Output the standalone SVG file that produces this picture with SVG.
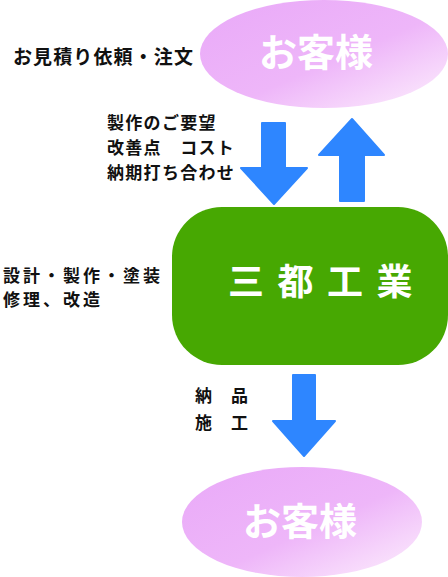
<svg xmlns="http://www.w3.org/2000/svg" width="448" height="577" viewBox="0 0 448 577">
<defs>
<linearGradient id="pink" x1="0" y1="0" x2="1" y2="1">
<stop offset="0" stop-color="#e9a9f8"/>
<stop offset="0.55" stop-color="#eeb6f9"/>
<stop offset="1" stop-color="#fdf0fd"/>
</linearGradient>
<style>
.lbl{font-family:"Noto Sans CJK JP","Noto Sans CJK SC",sans-serif;font-weight:bold;fill:#111;}
.wt{font-family:"Noto Sans CJK JP","Noto Sans CJK SC",sans-serif;font-weight:bold;fill:#fff;}
.arr{fill:#2e86ff;stroke:#2e86ff;stroke-width:2;stroke-linejoin:round;}
</style>
</defs>
<g id="customer-top">
<ellipse cx="324" cy="54" rx="124" ry="54" fill="url(#pink)"/>
<text class="wt" x="316" y="66" font-size="38" text-anchor="middle">お客様</text>
</g>
<g id="santo-kogyo">
<rect x="172" y="207" width="276" height="158" rx="50" ry="50" fill="#47a802"/>
<text class="wt" x="228" y="295" font-size="36" letter-spacing="13.5" font-weight="normal">三都工業</text>
</g>
<g id="customer-bottom">
<ellipse cx="302" cy="522" rx="120" ry="55" fill="url(#pink)"/>
<text class="wt" x="300" y="535" font-size="38" text-anchor="middle">お客様</text>
</g>
<g id="connectors">
<path class="arr" d="M262,123 H285 V168 H307 L274,204 L241,168 H262 Z"/>
<path class="arr" d="M352,119 L384,155 H364 V201 H340 V155 H319 Z"/>
<path class="arr" d="M293,375 H315 V421 H335 L304,456 L273,421 H293 Z"/>
</g>
<g id="labels">
<text class="lbl" x="13" y="64" font-size="19" textLength="180">お見積り依頼・注文</text>
<text class="lbl" x="107" y="129" font-size="17" letter-spacing="1.3">製作のご要望</text>
<text class="lbl" x="107" y="154" font-size="17" letter-spacing="1.3">改善点　コスト</text>
<text class="lbl" x="107" y="179" font-size="17" letter-spacing="1.3">納期打ち合わせ</text>
<text class="lbl" x="3" y="282" font-size="17" letter-spacing="3">設計・製作・塗装</text>
<text class="lbl" x="3" y="306" font-size="17" letter-spacing="3">修理、改造</text>
<text class="lbl" x="195" y="402" font-size="17" letter-spacing="1">納　品</text>
<text class="lbl" x="195" y="429" font-size="17" letter-spacing="1">施　工</text>
</g>
</svg>
